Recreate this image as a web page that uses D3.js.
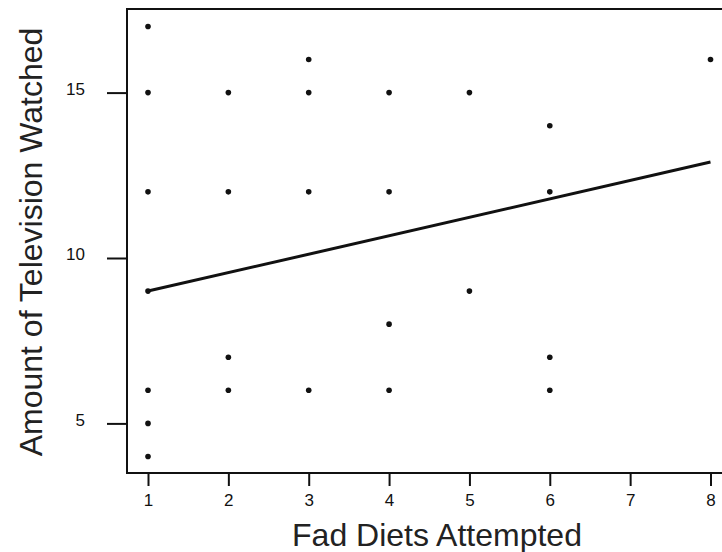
<!DOCTYPE html>
<html>
<head>
<meta charset="utf-8">
<script src="https://cdn.jsdelivr.net/npm/d3@7"></script>
<style>
  html, body { margin: 0; padding: 0; background: #fff; }
  svg { display: block; }
</style>
</head>
<body>
<svg id="chart" width="722" height="552"></svg>
<script>
// Data
const dietsAttempted = [1,1,1,1,1,1,1, 2,2,2,2, 3,3,3,3, 4,4,4,4, 5,5, 6,6,6,6, 8];
const tvWatched      = [17,15,12,9,6,5,4, 15,12,7,6, 16,15,12,6, 15,12,8,6, 15,9, 14,12,7,6, 16];
const fitX = [1, 8];
const fitY = [9.0, 12.9];
const xTicks = [1, 2, 3, 4, 5, 6, 7, 8];
const yTicks = [5, 10, 15];
const xTitle = "Fad Diets Attempted";
const yTitle = "Amount of Television Watched";

const svg = d3.select("#chart");
const frame = { left: 127, top: 9, right: 740, bottom: 473 };

const x = d3.scaleLinear().domain([1, 8]).range([148, 710.5]);
const y = d3.scaleLinear().domain([5, 15]).range([423.4, 92.6]);

const font = "'Liberation Sans', Arial, sans-serif";
const ink = "#111";

// frame (right side runs off the image, as in the reference)
svg.append("rect")
  .attr("x", frame.left).attr("y", frame.top)
  .attr("width", frame.right - frame.left).attr("height", frame.bottom - frame.top)
  .attr("fill", "none").attr("stroke", ink).attr("stroke-width", 2);

// x axis
const xAxis = d3.axisBottom(x).tickValues(xTicks).tickFormat(d3.format("d"))
  .tickSize(13).tickPadding(12);
const gx = svg.append("g").attr("transform", `translate(0,${frame.bottom})`).call(xAxis);
gx.select(".domain").remove();
gx.selectAll(".tick line").attr("stroke", ink).attr("stroke-width", 2);
gx.selectAll(".tick text").attr("font-family", font).attr("font-size", 17)
  .attr("fill", ink).attr("dy", "0.45em");

// y axis
const yAxis = d3.axisLeft(y).tickValues(yTicks).tickFormat(d3.format("d"))
  .tickSize(20).tickPadding(22);
const gy = svg.append("g").attr("transform", `translate(${frame.left},0)`).call(yAxis);
gy.select(".domain").remove();
gy.selectAll(".tick line").attr("stroke", ink).attr("stroke-width", 2);
gy.selectAll(".tick text").attr("font-family", font).attr("font-size", 17)
  .attr("fill", ink).attr("dy", "0.1em");

// fitted line
const fit = fitX.map((d, i) => [d, fitY[i]]);
svg.append("path")
  .datum(fit)
  .attr("d", d3.line().x(d => x(d[0])).y(d => y(d[1])))
  .attr("fill", "none").attr("stroke", ink).attr("stroke-width", 3);

// points
svg.append("g").selectAll("circle")
  .data(dietsAttempted.map((d, i) => [d, tvWatched[i]]))
  .join("circle")
  .attr("cx", d => x(d[0])).attr("cy", d => y(d[1]))
  .attr("r", 2.8).attr("fill", ink);

// axis titles
svg.append("text")
  .attr("x", 437).attr("y", 546)
  .attr("text-anchor", "middle")
  .attr("font-family", font).attr("font-size", 32).attr("fill", "#222")
  .text(xTitle);

svg.append("text")
  .attr("transform", "translate(42,242) rotate(-90)")
  .attr("text-anchor", "middle")
  .attr("font-family", font).attr("font-size", 32).attr("fill", "#222")
  .text(yTitle);
</script>
</body>
</html>
